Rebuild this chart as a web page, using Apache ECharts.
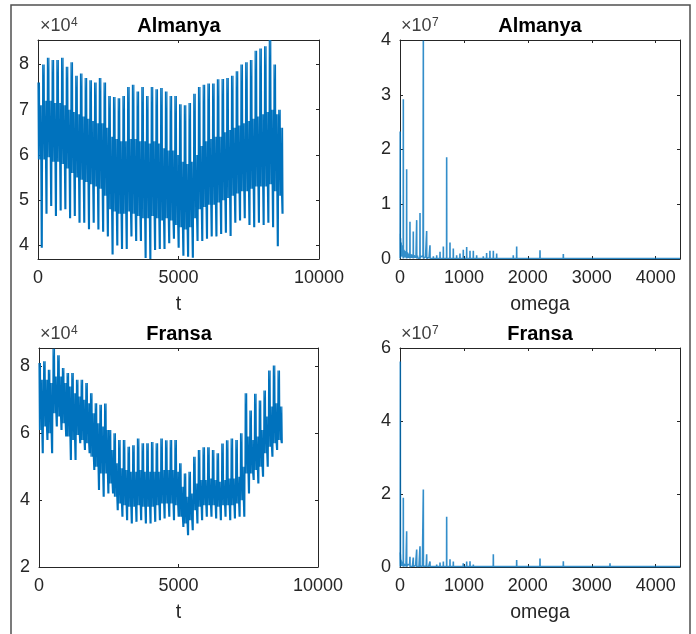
<!DOCTYPE html>
<html>
<head>
<meta charset="utf-8">
<script src="https://cdn.jsdelivr.net/npm/echarts@6/dist/echarts.min.js"></script>
<style>
  html, body { margin: 0; padding: 0; background: #fff; }
  #chart { width: 696px; height: 634px; }
</style>
</head>
<body>
<div id="chart"></div>
<script>
// ---- Hourly load over one year, summarised week by week (MW) ----
// For each week: highest spike, top and bottom of the dense daily band, lowest spike.
const deWeekPeak = [
  76000, 80000, 81500, 81000, 81000, 81500, 79500, 80500, 77500, 78000,
  77000, 76500, 76000, 77000, 76000, 73000, 72800, 72500, 73000, 75000,
  75500, 74000, 75000, 73000, 75000, 74500, 74800, 74000, 73000, 73000,
  71200, 71000, 71500, 73500, 75000, 75500, 75800, 75800, 76700, 76800,
  77000, 77500, 78500, 80000, 80500, 81000, 83000, 83500, 84000, 85400,
  80000, 70000
];
const deBandTop = [
  71000, 72000, 72000, 71500, 71500, 71000, 70000, 69500, 69000, 68500,
  68000, 67500, 67000, 67000, 66000, 64000, 63500, 63000, 63000, 63500,
  63500, 63000, 63000, 62500, 63000, 62500, 61500, 61000, 61000, 60000,
  58500, 58000, 58500, 60000, 62000, 63000, 63500, 64000, 64000, 65000,
  65500, 66000, 66500, 67000, 67500, 68000, 68500, 69000, 69500, 70000,
  69000, 66000
];
const deBandBottom = [
  59000, 59000, 59500, 58500, 58500, 58000, 57000, 56000, 55000, 54500,
  54000, 53500, 53000, 52500, 51000, 48000, 47500, 47000, 47000, 47500,
  47000, 46500, 46000, 46000, 46500, 46000, 45500, 46000, 45500, 44500,
  44000, 43500, 44000, 46000, 48000, 48500, 49000, 49000, 49500, 50000,
  50500, 51000, 51500, 52000, 52000, 52500, 53000, 53000, 53000, 53500,
  52000, 51000
];
const deWeekTrough = [
  39500, 47000, 48700, 46500, 47700, 48000, 46000, 46500, 45000, 45000,
  43600, 45000, 43500, 43000, 42000, 38000, 40000, 39200, 39200, 42000,
  41000, 41000, 37200, 37000, 39000, 39200, 39200, 40500, 41500, 39500,
  37700, 37500, 37300, 41000, 41000, 41500, 42000, 42000, 42500, 42800,
  42100, 45000, 45500, 46000, 44500, 44000, 45000, 44500, 45000, 44000,
  39800, 47000
];

const frWeekPeak = [
  81000, 81500, 79000, 85300, 83300, 79500, 78000, 78000, 76000, 76000,
  75000, 72000, 69000, 68500, 68900, 61000, 60000, 58000, 58000, 56000,
  56400, 58400, 57000, 57000, 57400, 57000, 58400, 57900, 58000, 58000,
  51000, 48000, 48500, 53000, 55000, 55800, 55800, 55000, 54000, 56900,
  57900, 58400, 58000, 60000, 72000, 66800, 71800, 69800, 72800, 78800,
  80300, 78800
];
const frBandTop = [
  76000, 76000, 75000, 77000, 77000, 75000, 74000, 72000, 71000, 70000,
  69000, 66000, 63000, 62000, 61000, 55000, 51000, 49500, 49000, 48500,
  48500, 49000, 48500, 48500, 48500, 48500, 49000, 49000, 49000, 48500,
  44000, 41000, 42000, 45000, 46000, 46000, 46500, 46000, 45500, 46000,
  46500, 46500, 47000, 50000, 59000, 58000, 59000, 61000, 65000, 68000,
  69000, 68000
];
const frBandBottom = [
  61000, 62000, 60000, 66000, 65000, 63000, 59000, 58000, 59500, 58000,
  57000, 53000, 50000, 48000, 48000, 45000, 41000, 39000, 38500, 38000,
  38000, 38500, 38000, 38000, 38000, 38500, 39000, 39000, 39000, 38500,
  35000, 33000, 34000, 37000, 38000, 38500, 38500, 38500, 38000, 38500,
  38500, 38500, 39000, 40000, 48000, 48000, 49000, 50000, 54000, 56000,
  57000, 58000
];
const frWeekTrough = [
  54000, 58000, 54000, 62000, 61000, 59000, 52000, 52000, 57000, 55000,
  54000, 49000, 43000, 41000, 42000, 42000, 37000, 35000, 34000, 33000,
  33500, 34000, 33000, 33000, 33500, 34000, 34500, 35000, 34000, 35000,
  32000, 29500, 31000, 33000, 34000, 35000, 35000, 34500, 34000, 35000,
  34000, 34500, 35000, 35000, 42000, 46000, 45000, 47000, 50000, 53000,
  55000, 57000
];

// ---- Amplitude spectrum: harmonic peaks [omega, amplitude] ----
const deSpikes = [
  [3, 2.33e7], [52, 2.92e7], [104, 1.64e7], [156, 0.68e7], [208, 0.50e7],
  [261, 0.71e7], [313, 0.84e7], [365, 3.99e7], [417, 0.51e7], [469, 0.25e7],
  [522, 0.05e7], [574, 0.07e7], [626, 0.13e7], [678, 0.23e7], [730, 1.86e7],
  [782, 0.30e7], [834, 0.19e7], [886, 0.07e7], [938, 0.10e7], [990, 0.17e7],
  [1043, 0.22e7], [1095, 0.15e7], [1147, 0.15e7], [1199, 0.07e7], [1251, 0.03e7],
  [1303, 0.05e7], [1355, 0.11e7], [1407, 0.15e7], [1460, 0.15e7], [1512, 0.10e7],
  [1564, 0.04e7], [1616, 0.02e7], [1668, 0.03e7], [1720, 0.04e7], [1772, 0.07e7],
  [1825, 0.23e7], [1877, 0.04e7], [1929, 0.02e7], [2085, 0.04e7], [2138, 0.03e7],
  [2190, 0.16e7], [2242, 0.03e7], [2503, 0.03e7], [2555, 0.09e7], [2607, 0.02e7],
  [2920, 0.03e7], [3285, 0.03e7], [3650, 0.02e7], [4015, 0.03e7]
];
// low-frequency floor between the peaks
const deFloor = [
  [0, 4.6e6], [5, 0.8e6], [9, 3.8e6], [14, 0.6e6], [18, 3.0e6], [23, 0.5e6],
  [27, 2.5e6], [32, 0.4e6], [37, 2.0e6], [42, 0.4e6], [47, 1.8e6], [57, 0.3e6],
  [62, 1.7e6], [67, 0.3e6], [72, 1.5e6], [78, 0.3e6], [84, 1.4e6], [90, 0.3e6],
  [96, 1.2e6], [110, 0.2e6], [116, 1.2e6], [122, 0.2e6], [128, 1.0e6], [134, 0.2e6],
  [140, 1.0e6], [146, 0.2e6], [150, 0.9e6], [162, 0.2e6], [168, 0.9e6], [174, 0.2e6],
  [180, 0.8e6], [186, 0.2e6], [192, 0.8e6], [198, 0.2e6], [203, 0.7e6], [214, 0.2e6],
  [220, 0.7e6], [226, 0.2e6], [232, 0.6e6], [238, 0.2e6], [244, 0.6e6], [250, 0.2e6],
  [255, 0.5e6], [267, 0.2e6], [273, 0.6e6], [279, 0.2e6], [285, 0.5e6], [291, 0.2e6],
  [297, 0.5e6], [303, 0.2e6], [308, 0.5e6], [320, 0.2e6], [326, 0.5e6], [332, 0.2e6],
  [338, 0.5e6], [344, 0.2e6], [350, 0.4e6], [356, 0.2e6], [360, 0.4e6], [372, 0.2e6],
  [380, 0.4e6], [390, 0.2e6], [400, 0.4e6], [410, 0.2e6], [425, 0.3e6], [440, 0.2e6],
  [455, 0.3e6], [480, 0.1e6], [4380, 0.1e6]
];

const frSpikes = [
  [5, 5.63e7], [52, 1.90e7], [104, 0.98e7], [156, 0.28e7], [208, 0.26e7],
  [261, 0.48e7], [313, 0.57e7], [365, 2.12e7], [417, 0.35e7], [469, 0.15e7],
  [574, 0.07e7], [626, 0.12e7], [678, 0.15e7], [730, 1.38e7], [782, 0.21e7],
  [834, 0.15e7], [886, 0.05e7], [938, 0.05e7], [990, 0.10e7], [1043, 0.15e7],
  [1095, 0.16e7], [1147, 0.07e7], [1355, 0.03e7], [1407, 0.05e7], [1460, 0.35e7],
  [1512, 0.03e7], [1825, 0.19e7], [2190, 0.23e7], [2555, 0.16e7], [2920, 0.05e7],
  [3285, 0.10e7], [3650, 0.05e7], [4015, 0.05e7]
];
const frFloor = [
  [0, 4.0e6], [4, 0.6e6], [8, 3.5e6], [12, 0.5e6], [16, 2.0e6], [21, 0.4e6],
  [26, 1.5e6], [31, 0.3e6], [36, 1.2e6], [41, 0.3e6], [46, 1.0e6], [57, 0.2e6],
  [63, 0.9e6], [69, 0.2e6], [75, 0.8e6], [81, 0.2e6], [87, 0.8e6], [93, 0.2e6],
  [98, 0.7e6], [110, 0.2e6], [118, 0.7e6], [126, 0.2e6], [134, 0.6e6], [142, 0.2e6],
  [150, 0.6e6], [162, 0.2e6], [170, 0.5e6], [178, 0.2e6], [186, 0.5e6], [194, 0.2e6],
  [202, 0.5e6], [214, 0.2e6], [224, 0.4e6], [234, 0.2e6], [244, 0.4e6], [254, 0.2e6],
  [267, 0.4e6], [277, 0.2e6], [287, 0.4e6], [297, 0.2e6], [307, 0.3e6], [320, 0.2e6],
  [330, 0.3e6], [340, 0.2e6], [350, 0.3e6], [360, 0.2e6], [375, 0.3e6], [395, 0.2e6],
  [410, 0.3e6], [430, 0.1e6], [450, 0.2e6], [480, 0.1e6], [4380, 0.1e6]
];
const spectrumFloorLevel = 1e5;

// ---- Axis ticks ----
const timeTicks = [0, 5000, 10000];
const deLoadTicks = [40000, 50000, 60000, 70000, 80000];
const frLoadTicks = [20000, 40000, 60000, 80000];
const omegaTicks = [0, 1000, 2000, 3000, 4000];
const deAmpTicks = [0, 1e7, 2e7, 3e7, 4e7];
const frAmpTicks = [0, 2e7, 4e7, 6e7];

// One week of the trace: the weekday peak is reached twice, the weekend trough twice,
// with daily swings across the dense band in between.
const HOURS_PER_WEEK = 168;
function weeklyTrace(peak, top, bottom, trough) {
  const pts = [];
  peak.forEach((p, w) => {
    const hi = top[w], lo = bottom[w], tr = trough[w];
    const seq = [p, lo, hi, p, lo, hi, lo, tr, hi, tr];
    const step = HOURS_PER_WEEK / seq.length;
    seq.forEach((v, j) => pts.push([w * HOURS_PER_WEEK + j * step, v]));
  });
  return pts;
}

// Each harmonic peak is drawn as a thin stem rising from the spectral floor
function spectrumTrace(spikes, floor, base) {
  const pts = floor.map(p => p.slice());
  spikes.forEach(([f, a]) => {
    pts.push([f - 1.5, base], [f, a], [f + 1.5, base]);
  });
  return pts.sort((a, b) => a[0] - b[0]);
}

const FONT = 'Liberation Sans, Arial, Helvetica, sans-serif';
const AX = '#262626';
const LINE = '#0072BD';

const grids = [
  { left: 38, top: 40, width: 281, height: 219 },
  { left: 400, top: 40, width: 280, height: 219 },
  { left: 39, top: 348, width: 279, height: 219 },
  { left: 400, top: 348, width: 280, height: 219 }
];

function xAxesFor(gi, min, max, ticks, name, fmt) {
  const line = { show: true, onZero: false, lineStyle: { color: AX, width: 1 } };
  const tick = { show: true, inside: true, length: 3, customValues: ticks, lineStyle: { color: AX, width: 1 } };
  return [
    {
      type: 'value', gridIndex: gi, position: 'bottom', min, max,
      axisLine: line, axisTick: tick, splitLine: { show: false },
      axisLabel: { customValues: ticks, formatter: fmt, fontSize: 18, fontFamily: FONT, color: AX, margin: 10 },
      name, nameLocation: 'middle', nameGap: 36,
      nameTextStyle: { fontSize: 19.5, fontFamily: FONT, color: AX }
    },
    {
      type: 'value', gridIndex: gi, position: 'top', min, max,
      axisLine: line, axisTick: tick, splitLine: { show: false },
      axisLabel: { show: false }
    }
  ];
}
function yAxesFor(gi, min, max, ticks, fmt) {
  const line = { show: true, onZero: false, lineStyle: { color: AX, width: 1 } };
  const tick = { show: true, inside: true, length: 3, customValues: ticks, lineStyle: { color: AX, width: 1 } };
  return [
    {
      type: 'value', gridIndex: gi, position: 'left', min, max,
      axisLine: line, axisTick: tick, splitLine: { show: false },
      axisLabel: { customValues: ticks, formatter: fmt, fontSize: 18, fontFamily: FONT, color: AX, margin: 9 }
    },
    {
      type: 'value', gridIndex: gi, position: 'right', min, max,
      axisLine: line, axisTick: tick, splitLine: { show: false },
      axisLabel: { show: false }
    }
  ];
}

const plain = v => String(v);
const per1e4 = v => String(Math.round(v / 1e4));
const per1e7 = v => String(Math.round(v / 1e7));

const xAxis = [].concat(
  xAxesFor(0, 0, 10000, timeTicks, 't', plain),
  xAxesFor(1, 0, 4380, omegaTicks, 'omega', plain),
  xAxesFor(2, 0, 10000, timeTicks, 't', plain),
  xAxesFor(3, 0, 4380, omegaTicks, 'omega', plain)
);
const yAxis = [].concat(
  yAxesFor(0, 37000, 85400, deLoadTicks, per1e4),
  yAxesFor(1, 0, 4e7, deAmpTicks, per1e7),
  yAxesFor(2, 20000, 85500, frLoadTicks, per1e4),
  yAxesFor(3, 0, 6e7, frAmpTicks, per1e7)
);

function lineSeries(gi, data, width, color, opacity) {
  return {
    type: 'line', xAxisIndex: gi * 2, yAxisIndex: gi * 2, data,
    showSymbol: false, symbol: 'none', clip: true,
    lineStyle: { color, width, opacity }, silent: true, animation: false
  };
}

// titles and axis exponent labels
function titleText(x, y, text) {
  return { type: 'text', x, y, style: { text, font: 'bold 20px ' + FONT, fill: '#000', textAlign: 'center', textVerticalAlign: 'middle' } };
}
function exponent(x, y, power) {
  return [
    { type: 'text', x, y, style: { text: '\u00d710', font: '18px ' + FONT, fill: '#404040', textAlign: 'left', textVerticalAlign: 'bottom' } },
    { type: 'text', x: x + 31, y: y - 6, style: { text: power, font: '12px ' + FONT, fill: '#404040', textAlign: 'left', textVerticalAlign: 'bottom' } }
  ];
}

const chart = echarts.init(document.getElementById('chart'), null, { renderer: 'canvas' });
chart.setOption({
  animation: false,
  backgroundColor: '#fff',
  grid: grids,
  xAxis,
  yAxis,
  series: [
    lineSeries(0, weeklyTrace(deWeekPeak, deBandTop, deBandBottom, deWeekTrough), 1.2, LINE, 1),
    lineSeries(1, spectrumTrace(deSpikes, deFloor, spectrumFloorLevel), 1.6, LINE, 0.8),
    lineSeries(2, weeklyTrace(frWeekPeak, frBandTop, frBandBottom, frWeekTrough), 1.2, LINE, 1),
    lineSeries(3, spectrumTrace(frSpikes, frFloor, spectrumFloorLevel), 1.6, LINE, 0.8)
  ],
  graphic: [
    { type: 'rect', shape: { x: 11, y: 5, width: 679, height: 640 }, style: { fill: 'none', stroke: '#505050', lineWidth: 1.5 }, silent: true },
    titleText(179, 26.5, 'Almanya'),
    titleText(540, 26.5, 'Almanya'),
    titleText(179, 334, 'Fransa'),
    titleText(540, 334, 'Fransa')
  ].concat(
    exponent(40, 35, '4'),
    exponent(401, 35, '7'),
    exponent(40, 343, '4'),
    exponent(401, 343, '7')
  )
});
</script>
</body>
</html>
